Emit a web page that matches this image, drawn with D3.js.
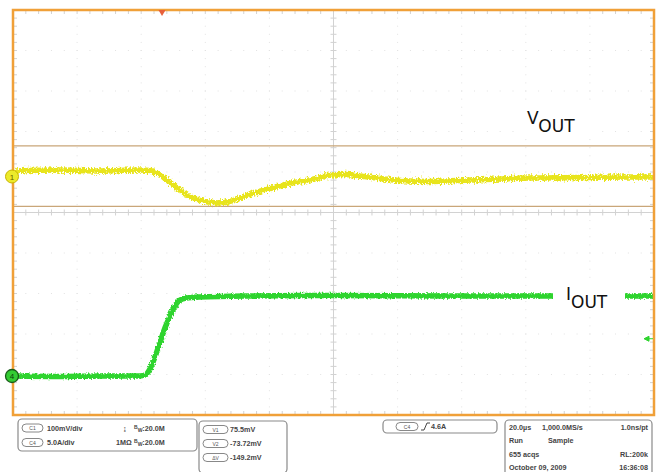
<!DOCTYPE html>
<html>
<head>
<meta charset="utf-8">
<script src="https://cdn.jsdelivr.net/npm/d3@7"></script>
<style>
body { margin: 0; background: #fff; }
svg { display: block; font-family: "Liberation Sans", Arial, sans-serif; }
</style>
</head>
<body>
<svg id="scope" width="662" height="472"></svg>
<script>
// values, time in us from left edge of screen
var vTime = [0.6, 14.7, 27.1, 39.6, 42.7, 45.9, 48.0, 51.2, 54.3, 57.4, 60.5, 64.6, 68.6, 71.8, 74.9, 79.6, 84.2, 88.9, 92.7, 95.8, 98.9, 103.6, 108.3, 114.5, 120.7, 130.1, 142.6, 161.3, 176.9, 192.5, 199.7]
var vOut = [13.6, 16, 13.6, 16, 14.8, 3.7, -8.6, -28.4, -45.7, -56.8, -62.2, -65.4, -59.8, -50.6, -40.7, -30.9, -21, -13.6, -8.6, -2.5, 3.7, 4.9, 1.2, -4.9, -9.9, -12.3, -8.6, -3.7, -2.5, -1.2, -1.2]
var iTime = [0.6, 14.7, 27.1, 39.6, 41.2, 42.7, 44.3, 45.9, 47.4, 49.0, 50.5, 52.1, 54.0, 58.3, 73.9, 98.9, 136.3, 167.5, 199.7]
var iOut = [0, -0.06, 0, 0, 0.12, 0.86, 2.35, 4.2, 5.93, 7.41, 8.64, 9.38, 9.63, 9.75, 9.88, 9.94, 9.88, 9.88, 9.88]

var cursorNames = ["V1", "V2", "\u0394V"]
var cursorValues = ["75.5mV", "-73.72mV", "-149.2mV"]
var cursorLevels = [75.5, -73.72]
var triggerLevel = 4.6
var triggerTime = 46.5

var chanRows = [
    ["C1", "100mV/div", "\u21A8", "20.0M"],
    ["C4", "5.0A/div", "1M\u03A9", "20.0M"]
]
var horizRows = [
    ["20.0\u00B5s", "1,000.0MS/s", "1.0ns/pt"],
    ["Run", "Sample", ""],
    ["655 acqs", "", "RL:200k"],
    ["October 09, 2009", "", "16:36:08"]
]

var svg = d3.select("#scope")
var pL = 13, pR = 654, pT = 10, pB = 415
var divX = (pR - pL) / 10, divY = (pB - pT) / 10

var x = d3.scaleLinear().domain([0, 200]).range([pL, pR])
// 100mV/div, ground marker 176.5px
var yV = d3.scaleLinear().domain([-(pB - 176.5) / divY * 100, (176.5 - pT) / divY * 100]).range([pB, pT])
// 5A/div, ground marker 376px
var yI = d3.scaleLinear().domain([-(pB - 376) / divY * 5, (376 - pT) / divY * 5]).range([pB, pT])

var defs = svg.append("defs")
function noise(id, scale, seed) {
    var f = defs.append("filter").attr("id", id).attr("filterUnits", "userSpaceOnUse")
        .attr("x", 0).attr("y", 0).attr("width", 662).attr("height", 472)
    f.append("feTurbulence").attr("type", "fractalNoise").attr("baseFrequency", "0.7 0.45")
        .attr("numOctaves", 2).attr("seed", seed).attr("result", "t")
    f.append("feDisplacementMap").attr("in", "SourceGraphic").attr("in2", "t")
        .attr("scale", scale).attr("xChannelSelector", "R").attr("yChannelSelector", "G")
}
noise("noiseV", 7, 2)
noise("noiseI", 4, 5)

// graticule dots
var g = svg.append("g")
for (var i = 1; i < 10; i++) {
    if (i == 5) continue
    for (var k = 0; k <= 50; k++) {
        g.append("rect").attr("x", pL + i * divX - 0.5).attr("y", pT + k * divY / 5 - 0.5)
            .attr("width", 1).attr("height", 1).attr("fill", "#e2e2e2")
        g.append("rect").attr("x", pL + k * divX / 5 - 0.5).attr("y", pT + i * divY - 0.5)
            .attr("width", 1).attr("height", 1).attr("fill", "#e2e2e2")
    }
}

// center cross with ticks
var cx = pL + 5 * divX, cy = pT + 5 * divY
g.append("line").attr("x1", cx).attr("x2", cx).attr("y1", pT).attr("y2", pB).attr("stroke", "#d2d2d2")
g.append("line").attr("x1", pL).attr("x2", pR).attr("y1", cy).attr("y2", cy).attr("stroke", "#d2d2d2")
for (var k = 1; k < 50; k++) {
    var ty = pT + k * divY / 5, tx = pL + k * divX / 5
    g.append("line").attr("x1", cx - 3).attr("x2", cx + 3).attr("y1", ty).attr("y2", ty).attr("stroke", "#d2d2d2")
    g.append("line").attr("x1", tx).attr("x2", tx).attr("y1", cy - 3).attr("y2", cy + 3).attr("stroke", "#d2d2d2")
    g.append("line").attr("x1", pL).attr("x2", pL + 4).attr("y1", ty).attr("y2", ty).attr("stroke", "#d2d2d2")
    g.append("line").attr("x1", pR - 4).attr("x2", pR).attr("y1", ty).attr("y2", ty).attr("stroke", "#d2d2d2")
    g.append("line").attr("x1", tx).attr("x2", tx).attr("y1", pT).attr("y2", pT + 4).attr("stroke", "#d2d2d2")
    g.append("line").attr("x1", tx).attr("x2", tx).attr("y1", pB - 4).attr("y2", pB).attr("stroke", "#d2d2d2")
}

// cursor lines
svg.selectAll(".cursor").data(cursorLevels).enter().append("line")
    .attr("x1", pL).attr("x2", pR)
    .attr("y1", function(d) { return yV(d) }).attr("y2", function(d) { return yV(d) })
    .attr("stroke", "#c9a679").attr("stroke-width", 1.2)

// traces
var lineV = d3.line().x(function(d, i) { return x(vTime[i]) }).y(function(d) { return yV(d) }).curve(d3.curveMonotoneX)
var lineI = d3.line().x(function(d, i) { return x(iTime[i]) }).y(function(d) { return yI(d) }).curve(d3.curveMonotoneX)

svg.append("path").attr("d", lineV(vOut)).attr("fill", "none")
    .attr("stroke", "#e8e41a").attr("stroke-width", 5.5).attr("filter", "url(#noiseV)")
svg.append("path").attr("d", lineI(iOut)).attr("fill", "none")
    .attr("stroke", "#2fd42f").attr("stroke-width", 5.5).attr("filter", "url(#noiseI)")

// frame
svg.append("rect").attr("x", pL).attr("y", pT).attr("width", pR - pL).attr("height", pB - pT)
    .attr("fill", "none").attr("stroke", "#f0a038").attr("stroke-width", 2.5)

// ground markers
svg.append("circle").attr("cx", 12).attr("cy", yV(0)).attr("r", 6.5).attr("fill", "#ecea2a").attr("stroke", "#c8b400")
svg.append("text").attr("x", 12).attr("y", yV(0) + 3).attr("text-anchor", "middle").attr("font-size", 8).attr("fill", "#6a6000").text("1")
svg.append("circle").attr("cx", 12).attr("cy", yI(0)).attr("r", 6.5).attr("fill", "#33cc33").attr("stroke", "#1a5a1a").attr("stroke-width", 1.3)
svg.append("text").attr("x", 12).attr("y", yI(0) + 3).attr("text-anchor", "middle").attr("font-size", 8).attr("fill", "#0a400a").text("4")

// trigger markers
svg.append("path").attr("d", d3.symbol().type(d3.symbolTriangle).size(22)())
    .attr("transform", "translate(" + x(triggerTime) + "," + (pT + 2) + ") rotate(180)").attr("fill", "#e8603a")
svg.append("path").attr("d", "M0,0 L5,-2.5 L5,2.5 Z M5,0 L9,0")
    .attr("transform", "translate(" + (pR - 10) + "," + yI(triggerLevel) + ")")
    .attr("fill", "#2fd42f").attr("stroke", "#2fd42f")

// trace labels
function label(bx, by, bw, bh, main, sub, tx, ty) {
    svg.append("rect").attr("x", bx).attr("y", by).attr("width", bw).attr("height", bh).attr("fill", "#fff")
    var t = svg.append("text").attr("x", tx).attr("y", ty).attr("font-family", "'DejaVu Sans', sans-serif")
        .attr("font-size", 17).attr("fill", "#111")
    t.append("tspan").text(main)
    t.append("tspan").attr("dy", 8).text(sub)
}
label(515, 106, 78, 32, "V", "OUT", 527, 123.5)
label(553, 284, 72, 26, "I", "OUT", 566, 299.5)

// readout panel
function box(bx, by, bw, bh) {
    svg.append("rect").attr("x", bx).attr("y", by).attr("width", bw).attr("height", bh).attr("rx", 4)
        .attr("fill", "#fff").attr("stroke", "#8a8a8a").attr("stroke-width", 1.2)
}
function badge(bx, by, bw, s) {
    svg.append("rect").attr("x", bx).attr("y", by - 4).attr("width", bw).attr("height", 8).attr("rx", 4)
        .attr("fill", "#fff").attr("stroke", "#7a7a7a").attr("stroke-width", 0.9)
    svg.append("text").attr("x", bx + bw / 2).attr("y", by + 2).attr("text-anchor", "middle")
        .attr("font-size", 5).attr("fill", "#555").text(s)
}
function txt(tx, ty, s, anchor) {
    return svg.append("text").attr("x", tx).attr("y", ty).attr("font-size", 7.2).attr("font-weight", "bold")
        .attr("fill", "#444").attr("text-anchor", anchor || "start").text(s)
}

box(18, 419, 179, 32)
chanRows.forEach(function(r, i) {
    var ry = 428 + i * 14.5
    badge(22, ry, 21, r[0])
    txt(47, ry + 2.5, r[1])
    txt(i == 0 ? 123 : 116, ry + 2.5, r[2])
    var b = txt(134, ry + 2.5, "")
    b.append("tspan").attr("font-size", 5).attr("dy", -2).text("B")
    b.append("tspan").attr("font-size", 5).attr("dy", 3).text("W")
    b.append("tspan").attr("dy", -1).text(":" + r[3])
})

box(199, 421, 88, 52)
cursorNames.forEach(function(n, i) {
    var ry = 429.5 + i * 14
    badge(203, ry, 25, n)
    txt(230, ry + 2.5, cursorValues[i])
})

box(383, 420, 114, 13)
badge(396, 426.5, 22, "C4")
svg.append("path").attr("d", "M421,430 L424,430 L427,423 L430,423").attr("fill", "none").attr("stroke", "#444").attr("stroke-width", 1)
txt(431, 429, triggerLevel + "A")

box(505, 420, 147, 56)
horizRows.forEach(function(r, i) {
    var ry = 429.5 + i * 13.5
    txt(509, ry, r[0])
    if (r[1]) txt(i == 0 ? 542 : 548, ry, r[1])
    if (r[2]) txt(648, ry, r[2], "end")
})
</script>
</body>
</html>
